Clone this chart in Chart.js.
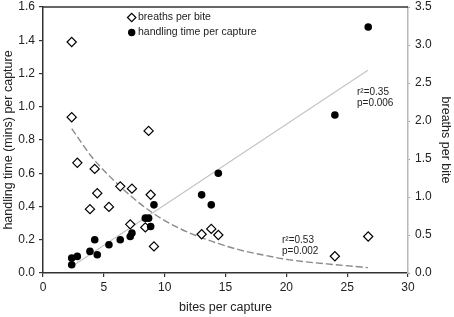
<!DOCTYPE html>
<html>
<head>
<meta charset="utf-8">
<script src="https://cdn.jsdelivr.net/npm/chart.js@4"></script>
<style>
  body { margin: 0; background: #fff; }
  canvas { display: block; }
</style>
</head>
<body>
<canvas id="myChart" width="454" height="317"></canvas>
<script>
// bites per capture for each capture
const bites = [2.36, 2.36, 2.82, 3.86, 4.25, 4.46, 5.42, 6.35, 7.17, 7.31, 8.41, 8.68, 8.85, 9.12, 13.04, 13.83, 14.41, 23.99, 26.73];
// handling time (mins) per capture, left axis
const handling = [0.05, 0.09, 0.10, 0.13, 0.20, 0.11, 0.17, 0.20, 0.22, 0.24, 0.33, 0.33, 0.28, 0.41, 0.47, 0.41, 0.60, 0.95, 1.48];
// breaths per bite, right axis
const breaths = [3.04, 2.05, 1.45, 0.84, 1.37, 1.05, 0.87, 1.14, 0.64, 1.11, 0.60, 1.87, 1.03, 0.35, 0.51, 0.58, 0.50, 0.22, 0.48];

// fitted lines
const linFitX = [2.4, 26.7];
const linFitY = [0.04, 1.22];
const expFitX = [2.36, 4, 6, 8, 10, 12, 14, 16, 18, 20, 22, 24, 26.7];
const expFitY = [1.90, 1.53, 1.19, 0.91, 0.69, 0.53, 0.41, 0.31, 0.24, 0.18, 0.14, 0.11, 0.07];

const xTicks = [0, 5, 10, 15, 20, 25, 30];
const yTicks = [0, 0.2, 0.4, 0.6, 0.8, 1.0, 1.2, 1.4, 1.6];
const y2Ticks = [0, 0.5, 1.0, 1.5, 2.0, 2.5, 3.0, 3.5];

const FONT = "'Liberation Sans', Arial, sans-serif";
const INK = '#222';

function pts(xs, ys) {
  return xs.map((x, i) => ({ x: x, y: ys[i] }));
}

const extras = {
  id: 'extras',
  afterDraw(chart) {
    const ctx = chart.ctx;
    const a = chart.chartArea;
    ctx.save();
    // top frame line
    ctx.strokeStyle = '#333';
    ctx.lineWidth = 1.5;
    ctx.beginPath();
    ctx.moveTo(a.left, a.top);
    ctx.lineTo(a.right, a.top);
    ctx.stroke();

    // legend
    ctx.lineWidth = 1.2;
    ctx.strokeStyle = '#000';
    ctx.fillStyle = '#fff';
    ctx.beginPath();
    ctx.moveTo(131.7 - 4.2, 17.5);
    ctx.lineTo(131.7, 13.3);
    ctx.lineTo(131.7 + 4.2, 17.5);
    ctx.lineTo(131.7, 21.7);
    ctx.closePath();
    ctx.fill();
    ctx.stroke();
    ctx.fillStyle = '#000';
    ctx.beginPath();
    ctx.arc(131.7, 32.5, 3.7, 0, Math.PI * 2);
    ctx.fill();

    ctx.fillStyle = INK;
    ctx.font = '10.5px ' + FONT;
    ctx.textBaseline = 'middle';
    ctx.textAlign = 'left';
    ctx.fillText('breaths per bite', 138, 17.5);
    ctx.fillText('handling time per capture', 138, 32.5);

    // fit statistics
    ctx.font = '10px ' + FONT;
    ctx.fillText('r\u00b2=0.35', 357, 92);
    ctx.fillText('p=0.006', 357, 103.5);
    ctx.fillText('r\u00b2=0.53', 282, 240);
    ctx.fillText('p=0.002', 282, 251.5);
    ctx.restore();
  }
};

function fitY(width) {
  return function (s) {
    s.width = width;
    s.paddingTop = 7;
    s.paddingBottom = 0;
  };
}

const ctx = document.getElementById('myChart');

new Chart(ctx, {
  type: 'scatter',
  data: {
    datasets: [
      {
        label: 'linear fit',
        type: 'line',
        data: pts(linFitX, linFitY),
        yAxisID: 'y',
        borderColor: '#c4c4c4',
        borderWidth: 1.2,
        pointRadius: 0,
        fill: false,
        order: 4
      },
      {
        label: 'exp fit',
        type: 'line',
        data: pts(expFitX, expFitY),
        yAxisID: 'y2',
        borderColor: '#8a8a8a',
        borderWidth: 1.4,
        borderDash: [7, 3],
        pointRadius: 0,
        tension: 0.4,
        cubicInterpolationMode: 'monotone',
        fill: false,
        order: 3
      },
      {
        label: 'breaths per bite',
        data: pts(bites, breaths),
        yAxisID: 'y2',
        pointStyle: 'rectRot',
        pointRadius: 4.6,
        pointBackgroundColor: '#fff',
        pointBorderColor: '#000',
        pointBorderWidth: 1.2,
        order: 2
      },
      {
        label: 'handling time per capture',
        data: pts(bites, handling),
        yAxisID: 'y',
        pointStyle: 'circle',
        pointRadius: 3.8,
        pointBackgroundColor: '#000',
        pointBorderColor: '#000',
        pointBorderWidth: 0,
        order: 1
      }
    ]
  },
  options: {
    responsive: false,
    animation: false,
    devicePixelRatio: 1,
    layout: { padding: { top: 7, left: 0, right: 0, bottom: 0 } },
    plugins: {
      legend: { display: false },
      tooltip: { enabled: false }
    },
    scales: {
      x: {
        type: 'linear',
        min: 0,
        max: 30,
        afterFit(s) { s.height = 44; },
        afterBuildTicks(s) { s.ticks = xTicks.map(v => ({ value: v })); },
        grid: { drawOnChartArea: false, drawTicks: true, tickLength: 4, color: '#333', lineWidth: 1.2 },
        border: { color: '#333', width: 1.5 },
        ticks: { color: INK, font: { family: FONT, size: 12 }, padding: 3, maxRotation: 0 },
        title: {
          display: true,
          text: 'bites per capture',
          color: INK,
          font: { family: FONT, size: 12.5 },
          padding: { top: 0, bottom: 2 }
        }
      },
      y: {
        type: 'linear',
        position: 'left',
        min: 0,
        max: 1.6,
        afterFit: fitY(43),
        afterBuildTicks(s) { s.ticks = yTicks.map(v => ({ value: v })); },
        grid: { drawOnChartArea: false, drawTicks: true, tickLength: 4, color: '#333', lineWidth: 1.2 },
        border: { color: '#333', width: 1.5 },
        ticks: {
          color: INK,
          font: { family: FONT, size: 12 },
          padding: 4,
          callback: v => v.toFixed(1)
        },
        title: {
          display: true,
          text: 'handling time (mins) per capture',
          color: INK,
          font: { family: FONT, size: 12.5 },
          padding: { top: 1.5, bottom: 0 }
        }
      },
      y2: {
        type: 'linear',
        position: 'right',
        min: 0,
        max: 3.5,
        afterFit: fitY(46),
        afterBuildTicks(s) { s.ticks = y2Ticks.map(v => ({ value: v })); },
        grid: { drawOnChartArea: false, drawTicks: true, tickLength: 2, color: '#999', lineWidth: 1 },
        border: { color: '#b8b8b8', width: 1.5 },
        ticks: {
          color: INK,
          font: { family: FONT, size: 12 },
          padding: 5,
          callback: v => v.toFixed(1)
        },
        title: {
          display: true,
          text: 'breaths per bite',
          color: INK,
          font: { family: FONT, size: 12.5 },
          padding: { top: 1.5, bottom: 0 }
        }
      }
    }
  },
  plugins: [extras]
});
</script>
</body>
</html>
